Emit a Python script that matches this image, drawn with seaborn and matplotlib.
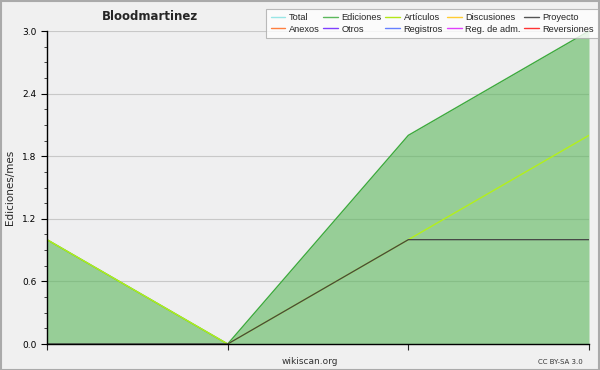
import numpy as np
import pandas as pd
import matplotlib
matplotlib.use("Agg")
import matplotlib.pyplot as plt
import seaborn as sns
from matplotlib.ticker import MultipleLocator
from matplotlib.lines import Line2D

# datos mensuales (4 meses)
meses = [0, 1, 2, 3]
ediciones = [1, 0, 2, 3]
articulos = [1, 0, 1, 2]
proyecto = [0, 0, 1, 1]

leyenda_nombres = ["Total", "Ediciones", "Artículos", "Discusiones", "Proyecto",
                   "Anexos", "Otros", "Registros", "Reg. de adm.", "Reversiones"]
leyenda_colores = ["#99e6e6", "#5cb85c", "#b3e619", "#ffcc33", "#555555",
                   "#ff8040", "#8040ff", "#6680ff", "#e040fb", "#ff3333"]

df = pd.DataFrame({"mes": meses, "Ediciones": ediciones,
                   "Artículos": articulos, "Proyecto": proyecto})

sns.set_style("white")
plt.rcParams['font.family'] = ['DejaVu Sans']

fig = plt.figure(figsize=(6.0, 3.7), dpi=100, facecolor="#f0f0f0")
ax = fig.add_axes([47 / 600, 1 - 344 / 370, (589 - 47) / 600, (344 - 31) / 370])
ax.set_facecolor("#efeff0")

# relleno de ediciones
ax.fill_between(df["mes"], 0, df["Ediciones"], color="#5cb85c", alpha=0.6,
                linewidth=0, zorder=2)
sns.lineplot(data=df, x="mes", y="Ediciones", color="#3daa3d", linewidth=1.0,
             ax=ax, zorder=3)
sns.lineplot(data=df, x="mes", y="Artículos", color="#b3f01a", linewidth=1.0,
             ax=ax, zorder=4)
sns.lineplot(data=df, x="mes", y="Proyecto", color="#444444", linewidth=0.9,
             ax=ax, zorder=5)

ax.set_xlim(0, 3)
ax.set_ylim(0, 3.0)
ax.yaxis.set_major_locator(MultipleLocator(0.6))
ax.yaxis.set_minor_locator(MultipleLocator(0.15))
ax.set_yticklabels([f"{v:.1f}" for v in ax.get_yticks()])
ax.set_xticks(meses)
ax.set_xticklabels([])
ax.set_axisbelow(True)
ax.grid(axis="y", color="#c8c8c8", linewidth=0.8)
for s in ["top", "right"]:
    ax.spines[s].set_visible(False)
for s in ["left", "bottom"]:
    ax.spines[s].set_color("black")
    ax.spines[s].set_linewidth(1.0)
    ax.spines[s].set_zorder(6)
ax.tick_params(axis="y", which="major", direction="out", length=4, labelsize=6.5,
               colors="black", left=True)
ax.tick_params(axis="y", which="minor", direction="out", length=2, left=True)
ax.tick_params(axis="x", which="major", direction="out", length=4, bottom=True)
ax.set_xlabel("")
ax.set_ylabel("Ediciones/mes", fontsize=7.5, labelpad=5)

fig.text(150 / 600, 1 - 17 / 370, "Bloodmartinez", fontsize=8.5, fontweight="bold",
         ha="center", va="center")
fig.text(310 / 600, 1 - 361 / 370, "wikiscan.org", fontsize=6.5, ha="center",
         va="center", color="#333333")
fig.text(560 / 600, 1 - 362 / 370, "CC BY-SA 3.0", fontsize=5, ha="center",
         va="center", color="#333333")

handles = [Line2D([0], [0], color=c, linewidth=1.0) for c in leyenda_colores]
# reordenar para llenar por filas (5 columnas)
orden = [0, 5, 1, 6, 2, 7, 3, 8, 4, 9]
leg = fig.legend([handles[i] for i in orden], [leyenda_nombres[i] for i in orden],
                 ncol=5, loc="upper right", bbox_to_anchor=(598 / 600, 1 - 9 / 370),
                 prop={"family": "Liberation Sans", "size": 6.7}, frameon=True,
                 fancybox=False, handlelength=1.6, handletextpad=0.35,
                 columnspacing=0.4, labelspacing=0.25, borderpad=0.45, borderaxespad=0)
leg.get_frame().set_edgecolor("#aaaaaa")
leg.get_frame().set_facecolor("white")
leg.get_frame().set_linewidth(0.8)

# borde exterior
fig.patches.append(plt.Rectangle((0.001, 0.001), 0.998, 0.997, transform=fig.transFigure,
                                 fill=False, edgecolor="#aaaaaa", linewidth=1.5))

fig.savefig("out.png", dpi=100, facecolor=fig.get_facecolor())
